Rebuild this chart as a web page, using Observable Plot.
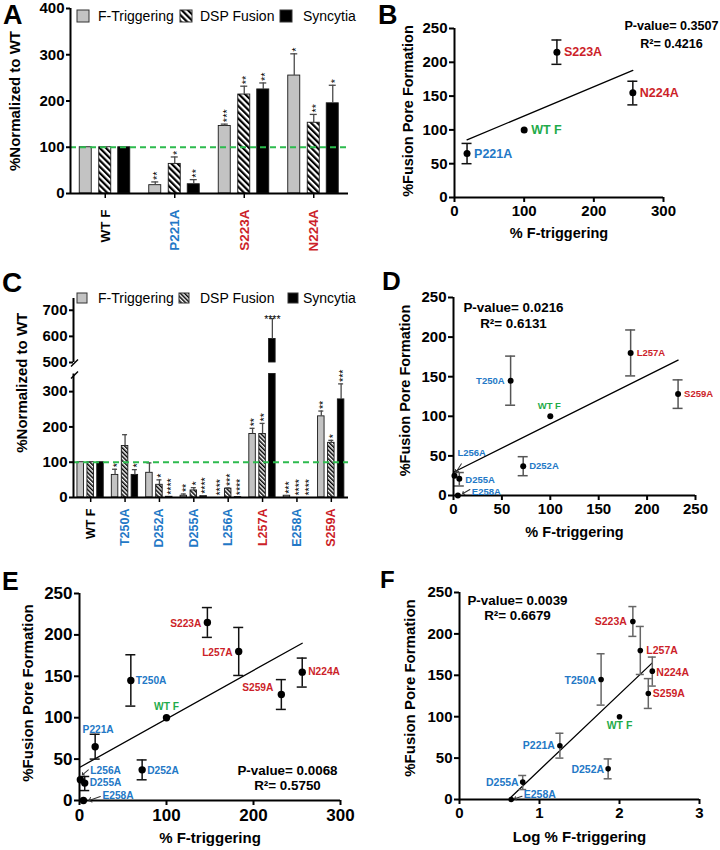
<!DOCTYPE html>
<html><head><meta charset="utf-8">
<script src="https://cdn.jsdelivr.net/npm/d3@7"></script>
<script src="https://cdn.jsdelivr.net/npm/@observablehq/plot@0.6"></script>
<style>
body{margin:0;background:#fff;font-family:"Liberation Sans",Arial,Helvetica,sans-serif;}
#root{position:relative;width:720px;height:850px;overflow:hidden;background:#fff;}
.abs{position:absolute;}
.letter{position:absolute;font-weight:bold;color:#000;white-space:nowrap;}
.legtext{position:absolute;font-size:14px;line-height:16px;height:16px;white-space:nowrap;color:#000;}
</style></head><body>
<svg width="0" height="0" style="position:absolute">
 <defs>
  <pattern id="hatchA" patternUnits="userSpaceOnUse" width="4.4" height="4.4" patternTransform="rotate(-45)">
   <rect width="4.4" height="4.4" fill="white"/><rect width="2.2" height="4.4" fill="black"/>
  </pattern>
  <pattern id="hatchC" patternUnits="userSpaceOnUse" width="3" height="3" patternTransform="rotate(-45)">
   <rect width="3" height="3" fill="white"/><rect width="1.5" height="3" fill="black"/>
  </pattern>
 </defs>
</svg>
<div id="root"></div>
<script>
// ---------------- DATA ----------------
const seriesNames = ["F-Triggering", "DSP Fusion", "Syncytia"];

// Panel A
const groupsA = ["WT F", "P221A", "S223A", "N224A"];
const fTrigA = [100, 18, 146, 255];
const fTrigErrA = [null, 25, 150, 302];
const fTrigStarsA = ["", "**", "***", "*"];
const dspA = [100, 64, 214, 153];
const dspErrA = [null, 79, 232, 171];
const dspStarsA = ["", "*", "**", "**"];
const syncA = [100, 20, 225, 195];
const syncErrA = [null, 30, 239, 234];
const syncStarsA = ["", "**", "**", "*"];
const yTicksA = [0, 100, 200, 300, 400];

// Panel C
const groupsC = ["WT F", "T250A", "D252A", "D255A", "L256A", "L257A", "E258A", "S259A"];
const fTrigC = [100, 64, 70, 5, 0, 180, 5, 230];
const fTrigErrC = [null, 80, 98, 10, null, 196, null, 245];
const fTrigStarsC = ["", "*", "", "**", "****", "**", "***", "**"];
const dspC = [100, 146, 36, 20, 25, 180, 0, 155];
const dspErrC = [null, 178, 50, 28, 27, 210, null, 162];
const dspStarsC = ["", "", "*", "*", "***", "**", "****", "*"];
const syncC = [100, 64, 2, 4, 1, 590, 0, 278];
const syncErrC = [null, 79, null, 5, null, 668, null, 322];
const syncStarsC = ["", "*", "****", "****", "****", "****", "****", "***"];
const yTicksCLow = [0, 100, 200, 300];
const yTicksCHigh = [500, 600, 700];

// Scatter panels (B, D, E, F)
const mutants     = ["WT F", "P221A", "S223A", "N224A", "T250A", "D252A", "D255A", "L256A", "L257A", "E258A", "S259A"];
const fTrigger    = [100, 18, 147, 256, 59, 72, 6, 1, 183, 4.5, 232];
const logFTrigger = [2.0, 1.255, 2.167, 2.41, 1.77, 1.858, 0.79, null, 2.26, 0.646, 2.36];
const porePct     = [100, 65, 215, 155, 145, 37, 21, 25, 180, 0, 128];
const poreLo      = [null, 50, 197, 137, 114, 25, 12, null, 151, null, 110];
const poreHi      = [null, 80, 233, 172, 176, 49, 29, null, 209, null, 146];
const namesB = ["WT F", "P221A", "S223A", "N224A"];
const namesD = ["WT F", "T250A", "D252A", "D255A", "L256A", "L257A", "E258A", "S259A"];
const namesE = mutants;
const namesF = ["WT F", "P221A", "S223A", "N224A", "T250A", "D252A", "D255A", "L257A", "E258A", "S259A"];
const statsB = ["P-value= 0.3507", "R²= 0.4216"];
const statsD = ["P-value= 0.0216", "R²= 0.6131"];
const statsE = ["P-value= 0.0068", "R²= 0.5750"];
const statsF = ["P-value= 0.0039", "R²= 0.6679"];
const yTicksScatter = [0, 50, 100, 150, 200, 250];
const xTicksB = [0, 100, 200, 300];
const xTicksD = [0, 50, 100, 150, 200, 250];
const xTicksE = [0, 100, 200, 300];
const xTicksF = [0, 1, 2, 3];

// ---------------- STYLE ----------------
const FONT = '"Liberation Sans", Arial, Helvetica, sans-serif';
const BLUE = "#2378c6", RED = "#cc1f2a", GREEN = "#1fab4a", DASH = "#2dbb4e";
const mutantColor = {"WT F": GREEN, "P221A": BLUE, "S223A": RED, "N224A": RED, "T250A": BLUE, "D252A": BLUE,
  "D255A": BLUE, "L256A": BLUE, "L257A": RED, "E258A": BLUE, "S259A": RED};
const GRAY = "#c3c3c3";
const SVGNS = "http://www.w3.org/2000/svg";

const root = document.getElementById("root");
function place(el, left, top) {
  const w = document.createElement("div");
  w.className = "abs"; w.style.left = left + "px"; w.style.top = top + "px";
  w.appendChild(el); root.appendChild(w);
}
function svgStyle(size) {
  return {fontFamily: FONT, fontSize: size + "px", fontWeight: "bold", color: "black",
    background: "transparent", overflow: "visible"};
}

// ---------------- BAR PANELS ----------------
function barPanel(cfg) {
  const {groups, series, width, height, margin, yDomain, yTicks} = cfg;
  const fw = width - margin.left - margin.right;
  const bw = fw / groups.length;
  const inset = (bw - cfg.barW) / 2;
  const capInset = (bw - cfg.capW) / 2;
  const [ylo, yhi] = yDomain;
  const marks = [];
  series.forEach((s, k) => {
    const off = cfg.offsets[k];
    const rows = groups.map((g, i) => ({g, v: s.values[i], e: s.errs[i], star: s.stars[i]}));
    const bars = rows.filter(d => d.v > ylo);
    marks.push(Plot.barY(bars, {x: "g", y: "v", dx: off, insetLeft: inset, insetRight: inset,
      fill: s.fill, stroke: "#1a1a1a", strokeWidth: 0.9}));
    const errs = rows.filter(d => d.e != null && d.e > ylo && d.e <= yhi);
    marks.push(Plot.ruleX(errs, {x: "g", y1: "v", y2: "e", dx: off, stroke: "#4a4a4a", strokeWidth: 1.3}));
    marks.push(Plot.tickY(errs, {x: "g", y: "e", dx: off, insetLeft: capInset, insetRight: capInset,
      stroke: "#4a4a4a", strokeWidth: 1.3}));
    const top = d => d.e ?? d.v;
    const isH = d => (cfg.horizontalStars || []).some(h => h[0] === d.g && h[1] === k);
    const stars = rows.filter(d => d.star && top(d) >= ylo && top(d) <= yhi);
    marks.push(Plot.text(stars.filter(d => !isH(d)), {x: "g", y: top, text: "star", dx: off + 2.5, dy: -2,
      rotate: -90, textAnchor: "start", lineAnchor: "middle", fontSize: cfg.starFont, fontWeight: "normal"}));
    marks.push(Plot.text(stars.filter(isH), {x: "g", y: top, text: "star", dx: off, dy: 4,
      textAnchor: "middle", lineAnchor: "bottom", fontSize: cfg.starFont, fontWeight: "normal"}));
  });
  if (cfg.refLine != null && cfg.refLine >= ylo && cfg.refLine <= yhi)
    marks.push(Plot.ruleY([cfg.refLine], {stroke: DASH, strokeWidth: 2, strokeDasharray: "6,4"}));
  marks.push(Plot.ruleX([groups[0]], {dx: -bw / 2, stroke: "black", strokeWidth: 2}));
  marks.push(Plot.axisY({ticks: yTicks, tickSize: 4, tickPadding: 2, strokeWidth: 2, label: null}));
  if (cfg.showX) {
    marks.push(Plot.ruleY([ylo], {stroke: "black", strokeWidth: 2}));
    marks.push(Plot.axisX({tickSize: 5, tickFormat: () => "", strokeWidth: 1.5, label: null}));
    groups.forEach(g => marks.push(Plot.text([g], {x: d => d, text: d => d, frameAnchor: "bottom",
      dy: cfg.labelDy, rotate: -90, textAnchor: "end", lineAnchor: "middle",
      fill: g === "WT F" ? "black" : mutantColor[g], fontSize: cfg.labelFont, fontWeight: "bold"})));
  }
  if (cfg.yLabel) marks.push(Plot.text([cfg.yLabel], {text: d => d, frameAnchor: "left", dx: cfg.yLabelDx,
    dy: cfg.yLabelDy, rotate: -90, textAnchor: "middle", lineAnchor: "middle", fontSize: 15, fontWeight: "bold"}));
  if (cfg.breakMark) marks.push((index, scales, values, dims) => {
    const x = dims.marginLeft + 1.5;
    const y = cfg.breakMark === "top" ? dims.marginTop + 1.5 : dims.height - dims.marginBottom + 1;
    const p = document.createElementNS(SVGNS, "path");
    p.setAttribute("d", `M${x - 3.5},${y + 3.5}L${x + 3.5},${y - 3.5}`);
    p.setAttribute("stroke", "black"); p.setAttribute("stroke-width", 1.5); p.setAttribute("fill", "none");
    return p;
  });
  return Plot.plot({
    width, height, marginLeft: margin.left, marginRight: margin.right, marginTop: margin.top, marginBottom: margin.bottom,
    x: {type: "band", domain: groups, padding: 0, round: false, label: null, axis: cfg.showX ? undefined : null},
    y: {domain: yDomain, clamp: true, label: null},
    style: svgStyle(15),
    marks
  });
}

// ---------------- SCATTER PANELS ----------------
function scatterPanel(cfg) {
  const rows = cfg.names.map(n => {
    const i = mutants.indexOf(n);
    return {name: n, x: cfg.xs[i], y: porePct[i], lo: poreLo[i], hi: poreHi[i]};
  });
  const errRows = rows.filter(d => d.lo != null);
  const m = cfg.margin;
  const sw = 1.5;
  const marks = [
    Plot.linearRegressionY(rows, {x: "x", y: "y", ci: 0, stroke: "black", strokeWidth: 1.3}),
    Plot.ruleX(errRows, {x: "x", y1: "lo", y2: "hi", stroke: cfg.errColor, strokeWidth: sw}),
    Plot.ruleY(errRows, {y: "lo", x1: "x", x2: "x", insetLeft: -cfg.cap, insetRight: -cfg.cap, stroke: cfg.errColor, strokeWidth: sw}),
    Plot.ruleY(errRows, {y: "hi", x1: "x", x2: "x", insetLeft: -cfg.cap, insetRight: -cfg.cap, stroke: cfg.errColor, strokeWidth: sw}),
    Plot.ruleY([0], {stroke: "black", strokeWidth: 2}),
    Plot.ruleX([cfg.xDomain[0]], {stroke: "black", strokeWidth: 2}),
    Plot.axisX({ticks: cfg.xTicks, tickFormat: d => String(d), tickSize: 5, tickPadding: 3, strokeWidth: 2, label: null}),
    Plot.axisY({ticks: yTicksScatter, tickFormat: d => String(d), tickSize: 5, tickPadding: 2, strokeWidth: 2, label: null}),
    Plot.dot(rows, {x: "x", y: "y", r: cfg.r, fill: "black"})
  ];
  for (const d of rows) {
    const [anchor, dx, dy] = cfg.layout[d.name] || ["start", 6, 0];
    marks.push(Plot.text([d], {x: "x", y: "y", text: "name", textAnchor: anchor, lineAnchor: "middle", dx, dy,
      fill: mutantColor[d.name], fontSize: cfg.labelFont, fontWeight: "bold"}));
  }
  for (const d of rows) {
    const a = (cfg.arrows || {})[d.name];
    if (!a) continue;
    marks.push(Plot.vector([d], {x: "x", y: "y", length: a.length, rotate: a.rotate, anchor: "end",
      dx: a.dx, dy: a.dy, stroke: "#333", strokeWidth: 1}));
  }
  cfg.stats.forEach((t, j) => marks.push(Plot.text([t], {text: d => d, frameAnchor: cfg.statsAnchor,
    dx: cfg.statsDx, dy: cfg.statsDy[j], textAnchor: "middle", lineAnchor: "middle",
    fontSize: cfg.statsFont, fontWeight: "bold"})));
  marks.push(Plot.text(["%Fusion Pore Formation"], {text: d => d, frameAnchor: "left", dx: cfg.yLabelDx,
    dy: cfg.yLabelDy, rotate: -90, textAnchor: "middle", lineAnchor: "middle", fontSize: cfg.axisFont, fontWeight: "bold"}));
  marks.push(Plot.text([cfg.xLabel], {text: d => d, frameAnchor: "bottom", dy: cfg.xLabelDy,
    textAnchor: "middle", lineAnchor: "middle", fontSize: cfg.axisFont, fontWeight: "bold"}));
  return Plot.plot({
    width: cfg.width, height: cfg.height,
    marginLeft: m.left, marginRight: m.right, marginTop: m.top, marginBottom: m.bottom,
    x: {domain: cfg.xDomain, label: null},
    y: {domain: [0, 250], label: null},
    style: svgStyle(cfg.tickFont),
    marks
  });
}

// ---------------- LEGENDS & LETTERS ----------------
function letter(txt, x, baseline, size) {
  const d = document.createElement("div");
  d.className = "letter"; d.textContent = txt;
  d.style.fontSize = size + "px"; d.style.lineHeight = size + "px";
  d.style.left = x + "px"; d.style.top = Math.max(1, baseline - 0.8465 * size) + "px";
  root.appendChild(d);
}
function legend(items, cy, sw, hatchId) {
  const fills = [GRAY, `url(#${hatchId})`, "#000"];
  items.forEach((it, k) => {
    const s = document.createElementNS(SVGNS, "svg");
    s.setAttribute("width", sw + 2); s.setAttribute("height", sw + 2);
    s.style.position = "absolute"; s.style.left = (it.sx - 1) + "px"; s.style.top = (cy - sw / 2 - 1) + "px";
    const r = document.createElementNS(SVGNS, "rect");
    r.setAttribute("x", 1); r.setAttribute("y", 1); r.setAttribute("width", sw); r.setAttribute("height", sw);
    r.setAttribute("fill", fills[k]); r.setAttribute("stroke", "#333"); r.setAttribute("stroke-width", 1);
    s.appendChild(r); root.appendChild(s);
    const t = document.createElement("div");
    t.className = "legtext"; t.textContent = seriesNames[k];
    t.style.left = it.tx + "px"; t.style.top = (cy - 8) + "px";
    root.appendChild(t);
  });
}

// ---------------- BUILD ----------------
// Panel A
place(barPanel({
  groups: groupsA,
  series: [
    {values: fTrigA, errs: fTrigErrA, stars: fTrigStarsA, fill: GRAY},
    {values: dspA, errs: dspErrA, stars: dspStarsA, fill: "url(#hatchA)"},
    {values: syncA, errs: syncErrA, stars: syncStarsA, fill: "#000"}
  ],
  width: 360, height: 280, margin: {left: 70, right: 12, top: 8, bottom: 87},
  yDomain: [0, 400], yTicks: yTicksA, offsets: [-19.5, 0, 19], barW: 12, capW: 7,
  refLine: 100, showX: true, labelDy: 16, labelFont: 13.5, starFont: 11,
  yLabel: "%Normalized to WT", yLabelDx: -55, yLabelDy: 0
}), 0, 0);
legend([{sx: 77, tx: 98}, {sx: 180, tx: 200}, {sx: 280, tx: 303}], 16, 12, "hatchA");

// Panel C (broken axis: lower + upper)
const seriesC = [
  {values: fTrigC, errs: fTrigErrC, stars: fTrigStarsC, fill: GRAY},
  {values: dspC, errs: dspErrC, stars: dspStarsC, fill: "url(#hatchC)"},
  {values: syncC, errs: syncErrC, stars: syncStarsC, fill: "#000"}
];
place(barPanel({
  groups: groupsC, series: seriesC,
  width: 360, height: 290, margin: {left: 73, right: 12, top: 93.5, bottom: 73},
  yDomain: [0, 350], yTicks: yTicksCLow, offsets: [-10, 0, 9.8], barW: 6.5, capW: 5,
  refLine: 100, showX: true, labelDy: 11, labelFont: 12.5, starFont: 10.5,
  yLabel: "%Normalized to WT", yLabelDx: -51, yLabelDy: -53, breakMark: "top"
}), 0, 280);
place(barPanel({
  groups: groupsC, series: seriesC,
  width: 360, height: 82, margin: {left: 73, right: 12, top: 18, bottom: 0},
  yDomain: [500, 745], yTicks: yTicksCHigh, offsets: [-10, 0, 9.8], barW: 6.5, capW: 5,
  refLine: null, showX: false, starFont: 10.5, horizontalStars: [["L257A", 2]], breakMark: "bottom"
}), 0, 280);
legend([{sx: 77, tx: 98}, {sx: 179, tx: 200}, {sx: 288, tx: 303}], 298, 10, "hatchC");

// Panel B
place(scatterPanel({
  names: namesB, xs: fTrigger, width: 360, height: 280, margin: {left: 94, right: 57, top: 28, bottom: 83},
  xDomain: [0, 300], xTicks: xTicksB, tickFont: 15, labelFont: 12.5, axisFont: 14.5, r: 3.5, cap: 5, errColor: "#111",
  yLabelDx: -46, yLabelDy: -2, xLabelDy: 36, xLabel: "% F-triggering",
  layout: {"WT F": ["start", 7, 0], "P221A": ["start", 7, 0], "S223A": ["start", 7, 0], "N224A": ["start", 7, 0]},
  stats: statsB, statsAnchor: "top-right", statsDx: 8, statsDy: [-3, 15.3], statsFont: 12.6
}), 360, 0);

// Panel D
place(scatterPanel({
  names: namesD, xs: fTrigger, width: 360, height: 290, margin: {left: 93, right: 25, top: 17, bottom: 75},
  xDomain: [0, 250], xTicks: xTicksD, tickFont: 15, labelFont: 9.5, axisFont: 14.5, r: 3, cap: 5, errColor: "#555",
  yLabelDx: -48, yLabelDy: -6, xLabelDy: 37, xLabel: "% F-triggering",
  layout: {"WT F": ["middle", -1, -10], "T250A": ["end", -6, 0], "L257A": ["start", 6, 0], "S259A": ["start", 6, 0],
    "D252A": ["start", 6, 0], "D255A": ["start", 6, 1], "L256A": ["start", 3, -23], "E258A": ["start", 14, -4]},
  arrows: {"L256A": {rotate: 213, length: 10, dx: 1.5, dy: -3.5}, "E258A": {rotate: 240, length: 8.5, dx: 4.7, dy: -1.7}},
  stats: statsD, statsAnchor: "top-left", statsDx: 60, statsDy: [10.3, 26.3], statsFont: 13.4
}), 360, 280);

// Panel E
place(scatterPanel({
  names: namesE, xs: fTrigger, width: 360, height: 280, margin: {left: 79, right: 20, top: 23, bottom: 50},
  xDomain: [0, 300], xTicks: xTicksE, tickFont: 17, labelFont: 10.2, axisFont: 15, r: 3.7, cap: 5, errColor: "#111",
  yLabelDx: -51, yLabelDy: -4, xLabelDy: 38, xLabel: "% F-triggering",
  layout: {"S223A": ["end", -6, 1], "L257A": ["end", -6, 1.5], "N224A": ["start", 6, 0], "S259A": ["end", -8, -7],
    "T250A": ["start", 5, 0], "WT F": ["middle", 0, -11], "P221A": ["middle", 3, -17], "D252A": ["start", 5, 1],
    "D255A": ["start", 5, 0], "L256A": ["start", 10, -9], "E258A": ["start", 19, -5]},
  arrows: {"L256A": {rotate: 230, length: 7.8, dx: 2, dy: -5}, "E258A": {rotate: 251, length: 12, dx: 5.6, dy: 0}},
  stats: statsE, statsAnchor: "bottom-right", statsDx: -53, statsDy: [-30, -15], statsFont: 13.4
}), 0, 570);

// Panel F
place(scatterPanel({
  names: namesF, xs: logFTrigger, width: 360, height: 280, margin: {left: 99, right: 21, top: 22, bottom: 51},
  xDomain: [0, 3], xTicks: xTicksF, tickFont: 15, labelFont: 10.5, axisFont: 15, r: 2.8, cap: 4, errColor: "#666",
  yLabelDx: -49, yLabelDy: -8, xLabelDy: 38, xLabel: "Log % F-triggering",
  layout: {"S223A": ["end", -6, 0], "L257A": ["start", 6, 0], "N224A": ["start", 4, 1], "S259A": ["start", 4.5, 0],
    "T250A": ["end", -5, 1], "WT F": ["middle", 0, 9], "P221A": ["end", -5, 0], "D252A": ["end", -4, 1],
    "D255A": ["end", -4, 1], "E258A": ["start", 12.6, -5]},
  arrows: {"E258A": {rotate: 251, length: 8, dx: 3.3, dy: -0.7}},
  stats: statsF, statsAnchor: "top-left", statsDx: 58, statsDy: [8, 23], statsFont: 13.4
}), 360, 570);

letter("A", 3, 25, 27);
letter("B", 378, 25, 27);
letter("C", 2, 293, 28);
letter("D", 382, 290, 26);
letter("E", 2, 590, 25);
letter("F", 380, 588, 24);
</script>
</body></html>
